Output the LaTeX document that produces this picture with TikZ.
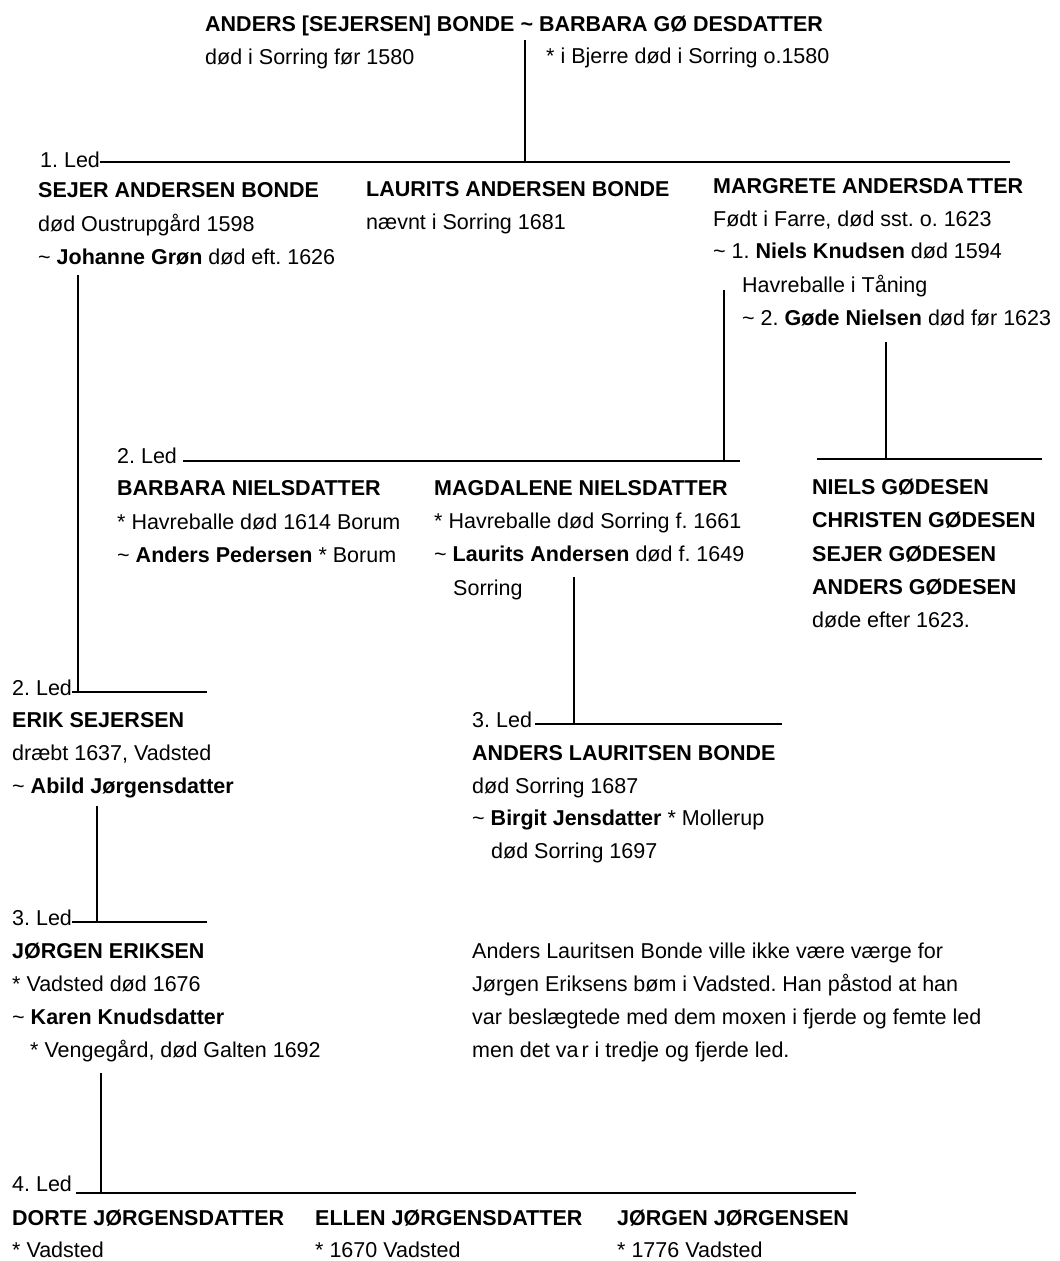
\documentclass[tikz,border=0pt]{standalone}
\usepackage{fontspec}
\setmainfont{Liberation Sans}
\frenchspacing
\begin{document}
\begin{tikzpicture}[x=1pt,y=-1pt,
  txt/.style={anchor=base west, inner sep=0pt, font=\fontsize{21.5}{33}\selectfont\frenchspacing},
  bld/.style={anchor=base west, inner sep=0pt, font=\fontsize{21.5}{33}\selectfont\bfseries\frenchspacing},
  hline/.style={line width=2.2pt},
  vline/.style={line width=1.8pt}]
\fill[white] (0,0) rectangle (1060,1261);
\useasboundingbox (0,0) rectangle (1060,1261);

% ---- top couple
\node[bld] (title) at (205,31) {ANDERS [SEJERSEN] BONDE \textasciitilde{} BARBARA GØ DESDATTER};
\node[txt] (titleA) at (205,64) {død i Sorring før 1580};
\node[txt] (titleB) at (546,63) {* i Bjerre død i Sorring o.1580};

% ---- 1. Led
\node[txt] (led1) at (40,167) {1. Led};
\node[bld] (sejer1) at (38,197) {SEJER ANDERSEN BONDE};
\node[txt] (sejer2) at (38,231) {død Oustrupgård 1598};
\node[txt] (sejer3) at (38,264) {\textasciitilde{} \textbf{Johanne Grøn} død eft. 1626};

\node[bld] (laur1) at (366,196) {LAURITS ANDERSEN BONDE};
\node[txt] (laur2) at (366,229) {nævnt i Sorring 1681};

\node[bld] (marg1) at (713,193) {MARGRETE ANDERSDA\kern3pt TTER};
\node[txt] (marg2) at (713,226) {Født i Farre, død sst. o. 1623};
\node[txt] (marg3) at (713,258) {\textasciitilde{} 1. \textbf{Niels Knudsen} død 1594};
\node[txt] (marg4) at (742,292) {Havreballe i Tåning};
\node[txt] (marg5) at (742,325) {\textasciitilde{} 2. \textbf{Gøde Nielsen} død før 1623};

% ---- 2. Led (upper)
\node[txt] (led2a) at (117,463) {2. Led};
\node[bld] (barb1) at (117,495) {BARBARA NIELSDATTER};
\node[txt] (barb2) at (117,529) {* Havreballe død 1614 Borum};
\node[txt] (barb3) at (117,562) {\textasciitilde{} \textbf{Anders Pedersen} * Borum};

\node[bld] (magd1) at (434,495) {MAGDALENE NIELSDATTER};
\node[txt] (magd2) at (434,528) {* Havreballe død Sorring f. 1661};
\node[txt] (magd3) at (434,561) {\textasciitilde{} \textbf{Laurits Andersen} død f. 1649};
\node[txt] (magd4) at (453,595) {Sorring};

\node[bld] (gode1) at (812,494) {NIELS GØDESEN};
\node[bld] (gode2) at (812,527) {CHRISTEN GØDESEN};
\node[bld] (gode3) at (812,561) {SEJER GØDESEN};
\node[bld] (gode4) at (812,594) {ANDERS GØDESEN};
\node[txt] (gode5) at (812,627) {døde efter 1623.};

% ---- 2. Led (left)
\node[txt] (led2b) at (12,695) {2. Led};
\node[bld] (erik1) at (12,727) {ERIK SEJERSEN};
\node[txt] (erik2) at (12,760) {dræbt 1637, Vadsted};
\node[txt] (erik3) at (12,793) {\textasciitilde{} \textbf{Abild Jørgensdatter}};

% ---- 3. Led (right)
\node[txt] (led3b) at (472,727) {3. Led};
\node[bld] (alb1) at (472,760) {ANDERS LAURITSEN BONDE};
\node[txt] (alb2) at (472,793) {død Sorring 1687};
\node[txt] (alb3) at (472,825) {\textasciitilde{} \textbf{Birgit Jensdatter} * Mollerup};
\node[txt] (alb4) at (491,858) {død Sorring 1697};

% ---- 3. Led (left)
\node[txt] (led3a) at (12,925) {3. Led};
\node[bld] (jor1) at (12,958) {JØRGEN ERIKSEN};
\node[txt] (jor2) at (12,991) {* Vadsted død 1676};
\node[txt] (jor3) at (12,1024) {\textasciitilde{} \textbf{Karen Knudsdatter}};
\node[txt] (jor4) at (30,1057) {* Vengegård, død Galten 1692};

% ---- note
\node[txt] (note1) at (472,958) {Anders Lauritsen Bonde ville ikke være værge for};
\node[txt] (note2) at (472,991) {Jørgen Eriksens bøm i Vadsted. Han påstod at han};
\node[txt] (note3) at (472,1024) {var beslægtede med dem moxen i fjerde og femte led};
\node[txt] (note4) at (472,1057) {men det va\kern3pt r i tredje og fjerde led.};

% ---- 4. Led
\node[txt] (led4) at (12,1191) {4. Led};
\node[bld] (dor1) at (12,1225) {DORTE JØRGENSDATTER};
\node[txt] (dor2) at (12,1257) {* Vadsted};
\node[bld] (ell1) at (315,1225) {ELLEN JØRGENSDATTER};
\node[txt] (ell2) at (315,1257) {* 1670 Vadsted};
\node[bld] (jj1) at (617,1225) {JØRGEN JØRGENSEN};
\node[txt] (jj2) at (617,1257) {* 1776 Vadsted};

% ---- connector points
\coordinate (c0t) at (525,40);   \coordinate (c0b) at (525,162);
\coordinate (g1l) at (100,162);  \coordinate (g1r) at (1010,162);
\coordinate (s0t) at (78,275);   \coordinate (s0b) at (78,692);
\coordinate (m0t) at (724,290);  \coordinate (m0b) at (724,461);
\coordinate (g2l) at (183,461);  \coordinate (g2r) at (740,461);
\coordinate (n0t) at (886,342);  \coordinate (n0b) at (886,459);
\coordinate (ngl) at (817,459);  \coordinate (ngr) at (1042,459);
\coordinate (d0t) at (574,577);  \coordinate (d0b) at (574,724);
\coordinate (r3l) at (535,724);  \coordinate (r3r) at (782,724);
\coordinate (l2l) at (72,692);   \coordinate (l2r) at (207,692);
\coordinate (e0t) at (97,806);   \coordinate (e0b) at (97,922);
\coordinate (l3l) at (72,922);   \coordinate (l3r) at (207,922);
\coordinate (j0t) at (101,1073); \coordinate (j0b) at (101,1193);
\coordinate (g4l) at (76,1193);  \coordinate (g4r) at (856,1193);

\draw[vline] (c0t) -- (c0b);
\draw[hline] (g1l) -- (g1r);
\draw[vline] (s0t) -- (s0b);
\draw[vline] (m0t) -- (m0b);
\draw[hline] (g2l) -- (g2r);
\draw[vline] (n0t) -- (n0b);
\draw[hline] (ngl) -- (ngr);
\draw[vline] (d0t) -- (d0b);
\draw[hline] (r3l) -- (r3r);
\draw[hline] (l2l) -- (l2r);
\draw[vline] (e0t) -- (e0b);
\draw[hline] (l3l) -- (l3r);
\draw[vline] (j0t) -- (j0b);
\draw[hline] (g4l) -- (g4r);
\end{tikzpicture}
\end{document}
